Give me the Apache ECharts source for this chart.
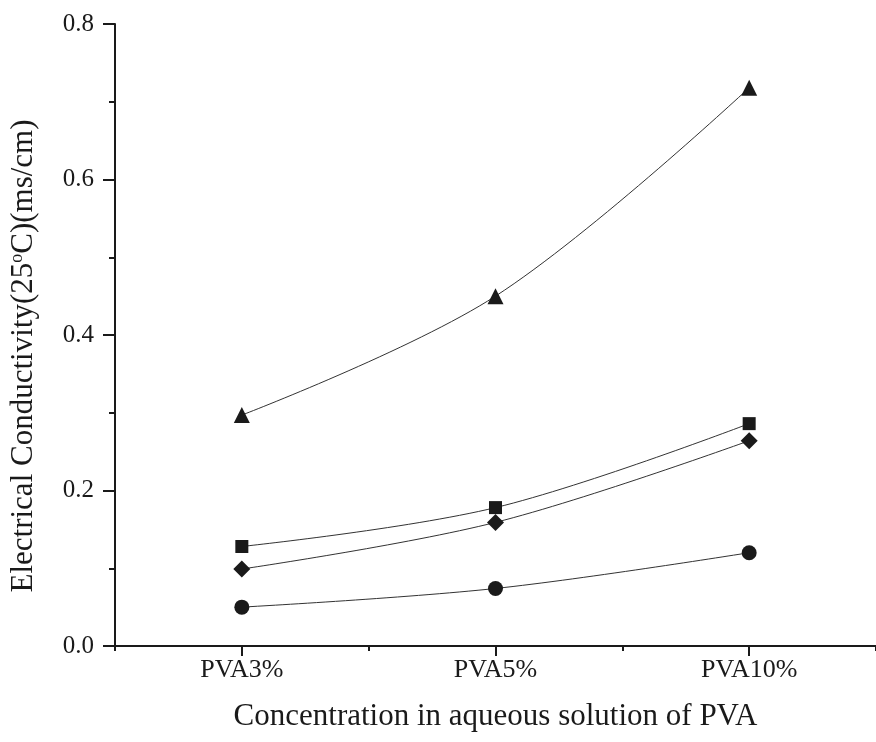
<!DOCTYPE html>
<html>
<head>
<meta charset="utf-8">
<script src="https://cdn.jsdelivr.net/npm/echarts@6/dist/echarts.min.js"></script>
<style>
html,body{margin:0;padding:0;background:#fff;}
#chart{width:876px;height:742px;}
</style>
</head>
<body>
<div id="chart"></div>
<script>
var categories = ["PVA3%", "PVA5%", "PVA10%"];
var triangleVals = [0.297, 0.450, 0.718];
var squareVals   = [0.128, 0.178, 0.286];
var diamondVals  = [0.099, 0.159, 0.264];
var circleVals   = [0.050, 0.074, 0.120];
var yTicks = [0.0, 0.2, 0.4, 0.6, 0.8];

var FONT = "'Liberation Serif','Times New Roman',serif";
var INK = "#1a1a1a";

function line(name, data, symbol, size){
  return {
    type:"line", name:name, data:data, smooth:0.35,
    symbol:symbol, symbolSize:size, showSymbol:true,
    lineStyle:{color:"#333", width:1},
    itemStyle:{color:INK, borderWidth:0},
    emphasis:{disabled:true}, z:3
  };
}

var ch = echarts.init(document.getElementById("chart"), null, {renderer:"canvas"});
ch.setOption({
  animation:false,
  backgroundColor:"#fff",
  grid:{ left:113, right:0, top:24, bottom:96, containLabel:false },
  xAxis:[{
    type:"category", data:categories, boundaryGap:true, position:"bottom",
    axisLine:{show:true, lineStyle:{color:INK, width:2}},
    axisTick:{show:true, alignWithLabel:false, length:5, lineStyle:{color:INK, width:2}},
    axisLabel:{show:false},
    splitLine:{show:false}
  },{
    type:"category", data:categories, boundaryGap:true, position:"bottom",
    name:"Concentration in aqueous solution of PVA",
    nameLocation:"middle", nameGap:55,
    nameTextStyle:{fontFamily:FONT, fontSize:31, color:INK},
    axisLine:{show:true, lineStyle:{color:INK, width:2}},
    axisTick:{show:true, alignWithLabel:true, length:10, lineStyle:{color:INK, width:2}},
    axisLabel:{fontFamily:FONT, fontSize:26, color:INK, margin:11},
    splitLine:{show:false}
  }],
  yAxis:{
    type:"value", min:yTicks[0], max:yTicks[yTicks.length-1], interval:0.2,
    name:"Electrical Conductivity(25{sup|o}C)(ms/cm)",
    nameLocation:"middle", nameGap:76, nameRotate:90,
    nameTextStyle:{fontFamily:FONT, fontSize:31, color:INK, padding:[0,42,0,0],
      rich:{sup:{fontFamily:FONT, fontSize:18, color:INK, verticalAlign:"top", padding:[0,0,12,0]}}},
    axisLine:{show:true, lineStyle:{color:INK, width:2}},
    axisTick:{show:true, length:12, lineStyle:{color:INK, width:2}},
    minorTick:{show:true, splitNumber:2, length:6, lineStyle:{color:INK, width:2}},
    axisLabel:{fontFamily:FONT, fontSize:25, color:INK, margin:21,
      formatter:function(v){ return (+v).toFixed(1); }},
    splitLine:{show:false}
  },
  series:[
    line("triangle", triangleVals, "triangle", 16),
    line("square", squareVals, "rect", 13),
    line("diamond", diamondVals, "diamond", 17),
    line("circle", circleVals, "circle", 15)
  ]
});
</script>
</body>
</html>
